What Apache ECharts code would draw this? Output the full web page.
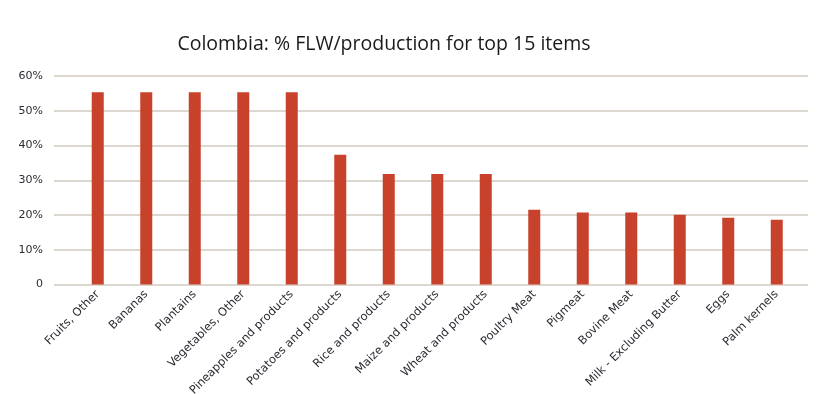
<!DOCTYPE html>
<html><head><meta charset="utf-8">
<script src="https://cdn.jsdelivr.net/npm/echarts@6/dist/echarts.min.js"></script>
<style>html,body{margin:0;padding:0;background:#fff}#c{width:840px;height:394px}</style>
</head><body><div id="c"></div>
<script>
const categories = ["Fruits, Other","Bananas","Plantains","Vegetables, Other","Pineapples and products","Potatoes and products","Rice and products","Maize and products","Wheat and products","Poultry Meat","Pigmeat","Bovine Meat","Milk - Excluding Butter","Eggs","Palm kernels"];
const values = [55.3,55.3,55.3,55.3,55.3,37.35,31.8,31.8,31.8,21.5,20.7,20.7,20.1,19.2,18.6];
const yTicks = [0,10,20,30,40,50,60];
const title = "Colombia: % FLW/production for top 15 items";

const chart = echarts.init(document.getElementById('c'), null, {renderer:'canvas'});
const yMin = yTicks[0], yMax = yTicks[yTicks.length-1], yInt = yTicks[1]-yTicks[0];
chart.setOption({
  animation:false,
  title:{text:title,left:379,top:29,textAlign:'center',
    textStyle:{fontFamily:'Open Sans',fontSize:19.5,fontWeight:500,color:'#1a1a1a'}},
  grid:[
    {left:54,right:32,top:76,bottom:109.5,outerBoundsMode:'none',containLabel:false},
    {left:73.5,right:39,top:76,bottom:109.5,outerBoundsMode:'none',containLabel:false}
  ],
  xAxis:[
    {gridIndex:0,type:'value',show:false,min:0,max:1},
    {gridIndex:1,type:'category',data:categories,
      axisLine:{show:false},axisTick:{show:false},
      axisLabel:{interval:0,rotate:45,fontFamily:'DejaVu Sans',fontSize:11.5,color:'#2b2b33',margin:8}}
  ],
  yAxis:[
    {gridIndex:0,type:'value',min:yMin,max:yMax,interval:yInt,
      axisLine:{show:false},axisTick:{show:false},
      axisLabel:{fontFamily:'DejaVu Sans',fontSize:11,color:'#2b2b33',margin:11,
        formatter:v=>v===0?'0':v+'%'},
      splitLine:{lineStyle:{color:'#dcd8d0',width:2}}},
    {gridIndex:1,type:'value',min:yMin,max:yMax,interval:yInt,show:false,splitLine:{show:false}}
  ],
  series:[{type:'bar',xAxisIndex:1,yAxisIndex:1,data:values,barWidth:12,
    itemStyle:{color:'#c8412b'}}]
});
</script></body></html>
